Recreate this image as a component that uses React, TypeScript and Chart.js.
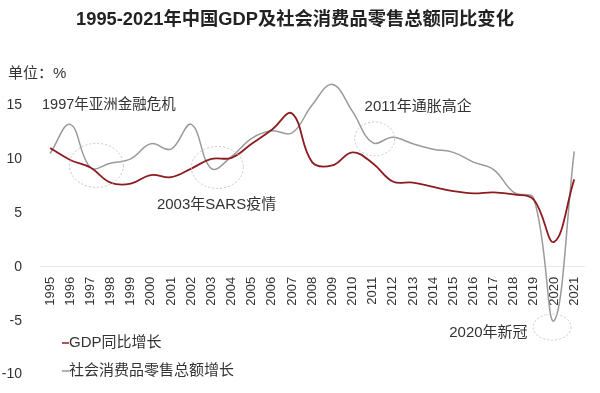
import React, { useEffect, useRef } from "react";
import { Chart, registerables } from "chart.js";

Chart.register(...registerables);

const FONT = "'Liberation Sans', Arial, 'Noto Sans CJK SC', sans-serif";

const title = "1995-2021年中国GDP及社会消费品零售总额同比变化";
const unitLabel = "单位：%";

const years = [
  "1995", "1996", "1997", "1998", "1999", "2000", "2001", "2002", "2003",
  "2004", "2005", "2006", "2007", "2008", "2009", "2010", "2011", "2012",
  "2013", "2014", "2015", "2016", "2017", "2018", "2019", "2020", "2021",
];

const gdpGrowth = [
  11.0, 9.9, 9.2, 7.8, 7.7, 8.5, 8.3, 9.1, 10.0,
  10.1, 11.4, 12.7, 14.2, 9.7, 9.4, 10.6, 9.6, 7.9,
  7.8, 7.4, 7.0, 6.8, 6.9, 6.7, 6.2, 2.3, 8.1,
];

const retailGrowth = [
  10.5, 13.2, 9.2, 9.6, 10.0, 11.4, 10.9, 13.2, 9.1,
  10.2, 11.9, 12.6, 12.4, 15.0, 16.9, 14.4, 11.5, 12.0,
  11.4, 10.9, 10.6, 9.7, 9.0, 6.9, 6.3, -5.0, 10.7,
];

const seriesNames = ["GDP同比增长", "社会消费品零售总额增长"];
const seriesColors = ["#8e1b1f", "#9a9a9a"];

const yTicks = [-10, -5, 0, 5, 10, 15];

// event annotations: label anchor (category index, value) and highlight ellipse centre
const eventLabels = ["1997年亚洲金融危机", "2003年SARS疫情", "2011年通胀高企", "2020年新冠"];
const eventLabelX = [-0.4, 5.3, 15.6, 19.8];
const eventLabelY = [15.0, 5.7, 14.85, -6.15];
const eventCircleX = [2.3, 8.3, 16.1, 24.9];
const eventCircleY = [9.4, 9.2, 11.85, -5.6];
const eventCircleRx = [27, 26, 20, 19];
const eventCircleRy = [22, 21, 17, 13];

const overlayPlugin = {
  id: "overlay",
  afterDatasetsDraw(chart: any) {
    const ctx = chart.ctx;
    const xs = chart.scales.x;
    const ys = chart.scales.y;
    ctx.save();
    // unit label
    ctx.font = `15px ${FONT}`;
    ctx.fillStyle = "#333";
    ctx.textAlign = "left";
    ctx.textBaseline = "middle";
    ctx.fillText(unitLabel, 8, 74);

    // event ellipses
    ctx.strokeStyle = "#c4c4c4";
    ctx.lineWidth = 1;
    ctx.setLineDash([2, 2]);
    for (let i = 0; i < eventLabels.length; i++) {
      const cx = xs.getPixelForValue(eventCircleX[i]);
      const cy = ys.getPixelForValue(eventCircleY[i]);
      ctx.beginPath();
      ctx.ellipse(cx, cy, eventCircleRx[i], eventCircleRy[i], 0, 0, Math.PI * 2);
      ctx.stroke();
    }
    ctx.setLineDash([]);

    // event labels
    ctx.fillStyle = "#333";
    for (let i = 0; i < eventLabels.length; i++) {
      ctx.font = i === 0 ? `14.5px ${FONT}` : `15px ${FONT}`;
      const tx = xs.getPixelForValue(eventLabelX[i]);
      const ty = ys.getPixelForValue(eventLabelY[i]);
      ctx.fillText(eventLabels[i], tx, ty);
    }

    // legend
    const legendX = 62;
    const legendY = [343, 371];
    for (let i = 0; i < seriesNames.length; i++) {
      ctx.strokeStyle = seriesColors[i];
      ctx.lineWidth = 1.5;
      ctx.beginPath();
      ctx.moveTo(legendX, legendY[i]);
      ctx.lineTo(legendX + 7, legendY[i]);
      ctx.stroke();
      ctx.fillStyle = "#333";
      ctx.font = `15px ${FONT}`;
      ctx.fillText(seriesNames[i], legendX + 7, legendY[i]);
    }
    ctx.restore();
  },
};

export default function App() {
  const canvasRef = useRef<HTMLCanvasElement | null>(null);

  useEffect(() => {
    document.body.style.margin = "0";
    const canvas = canvasRef.current;
    if (!canvas) return;
    Chart.defaults.font.family = FONT;
    const chart = new Chart(canvas, {
      type: "line",
      data: {
        labels: years,
        datasets: [
          {
            label: seriesNames[0],
            data: gdpGrowth,
            borderColor: seriesColors[0],
            borderWidth: 1.8,
            pointRadius: 0,
            tension: 0.4,
            fill: false,
          },
          {
            label: seriesNames[1],
            data: retailGrowth,
            borderColor: seriesColors[1],
            borderWidth: 1.5,
            pointRadius: 0,
            tension: 0.4,
            fill: false,
          },
        ],
      },
      options: {
        animation: false,
        responsive: true,
        maintainAspectRatio: false,
        layout: { padding: { top: 0, right: 10, bottom: 18, left: 0 } },
        plugins: {
          legend: { display: false },
          tooltip: { enabled: false },
          title: {
            display: true,
            text: title,
            color: "#222",
            font: { size: 18.3, weight: "bold", family: FONT },
            padding: { top: 9, bottom: 47 },
          },
        },
        scales: {
          x: {
            type: "category",
            offset: true,
            position: { y: 0 } as any,
            grid: { display: false, drawTicks: false },
            border: { display: true, color: "#e8e8e8", width: 1 },
            ticks: {
              autoSkip: false,
              minRotation: 90,
              maxRotation: 90,
              padding: 10,
              color: "#333",
              font: { size: 13, family: FONT },
            },
          },
          y: {
            min: -10,
            max: 17.5,
            grid: { display: false },
            border: { display: false },
            afterBuildTicks: (scale: any) => {
              scale.ticks = yTicks.map((v) => ({ value: v }));
            },
            afterFit: (scale: any) => {
              scale.width = 40;
            },
            ticks: {
              padding: 10,
              color: "#333",
              font: { size: 14, family: FONT },
            },
          },
        },
      },
      plugins: [overlayPlugin],
    });
    return () => chart.destroy();
  }, []);

  return (
    <div style={{ width: 600, height: 393, position: "relative" }}>
      <canvas ref={canvasRef} />
    </div>
  );
}
